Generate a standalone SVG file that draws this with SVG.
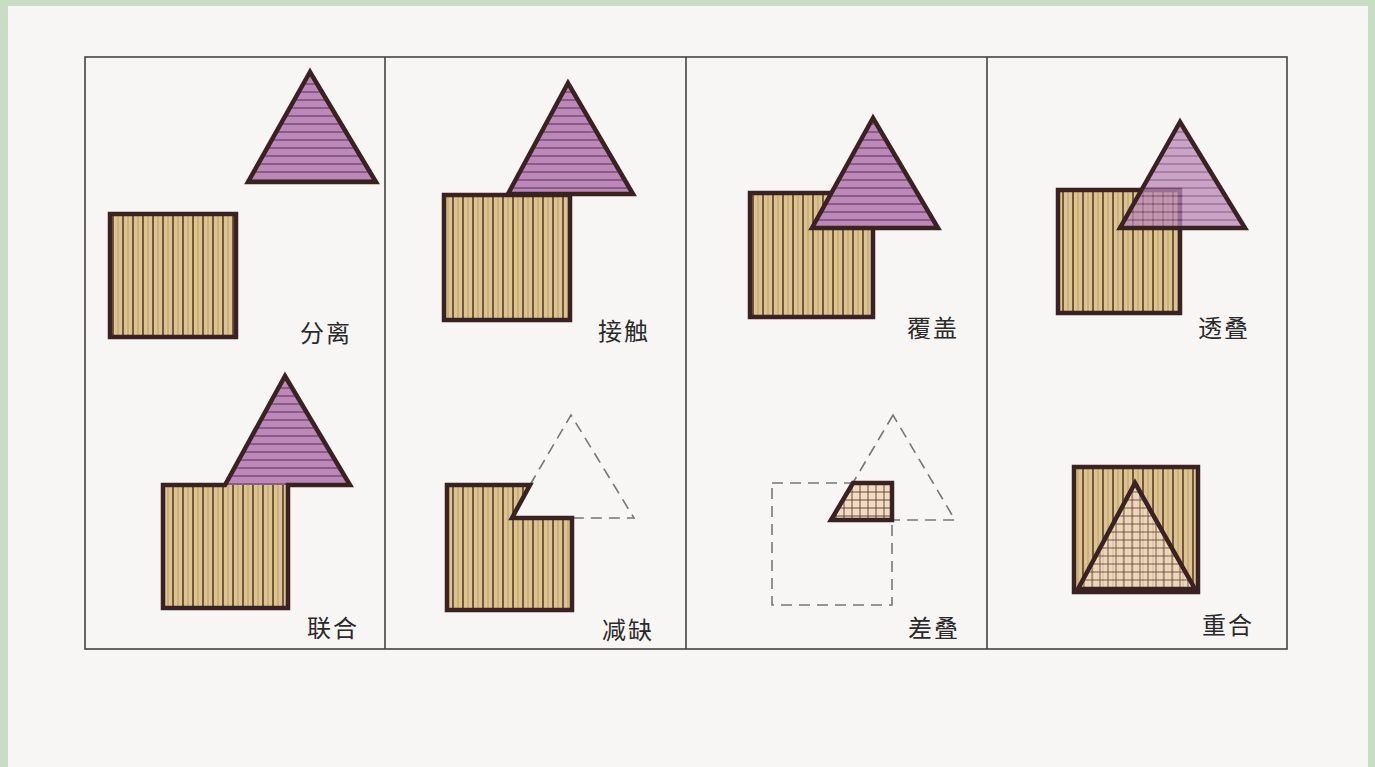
<svg xmlns="http://www.w3.org/2000/svg" width="1375" height="767" viewBox="0 0 1375 767">
<style>
.frame{fill:none;stroke:#444;stroke-width:1.6}
.out{stroke:#3b2222;stroke-width:4.5;stroke-linejoin:miter}
.sq{fill:url(#vstripe)}
.tri{fill:url(#hstripe)}
.grid{fill:url(#grid)}
.dash{fill:none;stroke:#777;stroke-width:1.6;stroke-dasharray:11 7}
.lbl{font-family:"Noto Sans CJK SC","Noto Sans CJK JP",sans-serif;font-size:24px;fill:#2a2a2a;letter-spacing:2px}
</style>
<defs>
<pattern id="vstripe" patternUnits="userSpaceOnUse" width="10" height="10">
<rect width="10" height="10" fill="#dcc48e"/>
<line x1="3" y1="0" x2="3" y2="10" stroke="#5b3b2b" stroke-width="1.6"/>
<line x1="8" y1="0" x2="8" y2="10" stroke="#b09070" stroke-width="0.8"/>
</pattern>
<pattern id="hstripe" patternUnits="userSpaceOnUse" width="10" height="8">
<rect width="10" height="8" fill="#bb88b8"/>
<line x1="0" y1="4" x2="10" y2="4" stroke="#7a4a7a" stroke-width="1.5"/>
</pattern>
<pattern id="grid" patternUnits="userSpaceOnUse" width="8" height="8">
<rect width="8" height="8" fill="#f0dcc4"/>
<line x1="4" y1="0" x2="4" y2="8" stroke="#6b4a3a" stroke-width="1"/>
<line x1="0" y1="4" x2="8" y2="4" stroke="#6b4a3a" stroke-width="1"/>
</pattern>
</defs>
<rect width="1375" height="767" fill="#c9dcc6"/>
<rect x="8" y="6" width="1360" height="761" fill="#f8f5f5"/>
<g id="frame">
<rect class="frame" x="85" y="57" width="1202" height="592"/>
<line class="frame" x1="385" y1="57" x2="385" y2="649"/>
<line class="frame" x1="686" y1="57" x2="686" y2="649"/>
<line class="frame" x1="987" y1="57" x2="987" y2="649"/>
</g>
<g id="connectors"></g>
<g id="fenli">
<polygon class="tri out" points="310,72 248,182 376,182"/>
<rect class="sq out" x="110" y="214" width="126" height="123"/>
<text class="lbl" x="300" y="342">分离</text>
</g>
<g id="jiechu">
<polygon class="tri out" points="568,83 508,194 633,194"/>
<rect class="sq out" x="444" y="195" width="126" height="125"/>
<text class="lbl" x="598" y="340">接触</text>
</g>
<g id="fugai">
<rect class="sq out" x="750" y="193" width="123" height="124"/>
<polygon class="tri out" points="873,118 812,228 938,228"/>
<text class="lbl" x="907" y="337">覆盖</text>
</g>
<g id="toudie">
<rect class="sq out" x="1058" y="190" width="122" height="123"/>
<polygon class="tri" points="1180,122 1120,228 1245,228" opacity="0.75"/>
<polygon points="1180,122 1120,228 1245,228" fill="none" class="out"/>
<text class="lbl" x="1198" y="337">透叠</text>
</g>
<g id="lianhe">
<rect class="sq" x="163" y="485" width="125" height="123"/>
<polygon class="tri" points="285,376 225,485 350,485"/>
<path class="out" fill="none" d="M163,485 L225,485 L285,376 L350,485 L288,485 L288,608 L163,608 Z"/>
<text class="lbl" x="307" y="637">联合</text>
</g>
<g id="jianque">
<path class="dash" d="M530,485 L571,415 L634,518 L572,518"/>
<path class="sq out" d="M447,485 L530,485 L512,518 L572,518 L572,610 L447,610 Z"/>
<text class="lbl" x="602" y="639">减缺</text>
</g>
<g id="chadie">
<rect class="dash" x="772" y="483" width="120" height="122"/>
<polygon class="dash" points="893,415 831,520 955,520"/>
<polygon class="grid out" points="853,483 892,483 892,520 831,520"/>
<text class="lbl" x="908" y="637">差叠</text>
</g>
<g id="chonghe">
<rect class="sq out" x="1074" y="467" width="124" height="125"/>
<polygon class="grid" points="1135,483 1078,589 1195,589" opacity="0.85"/>
<polygon points="1135,483 1078,589 1195,589" fill="none" class="out"/>
<text class="lbl" x="1202" y="634">重合</text>
</g>
</svg>
